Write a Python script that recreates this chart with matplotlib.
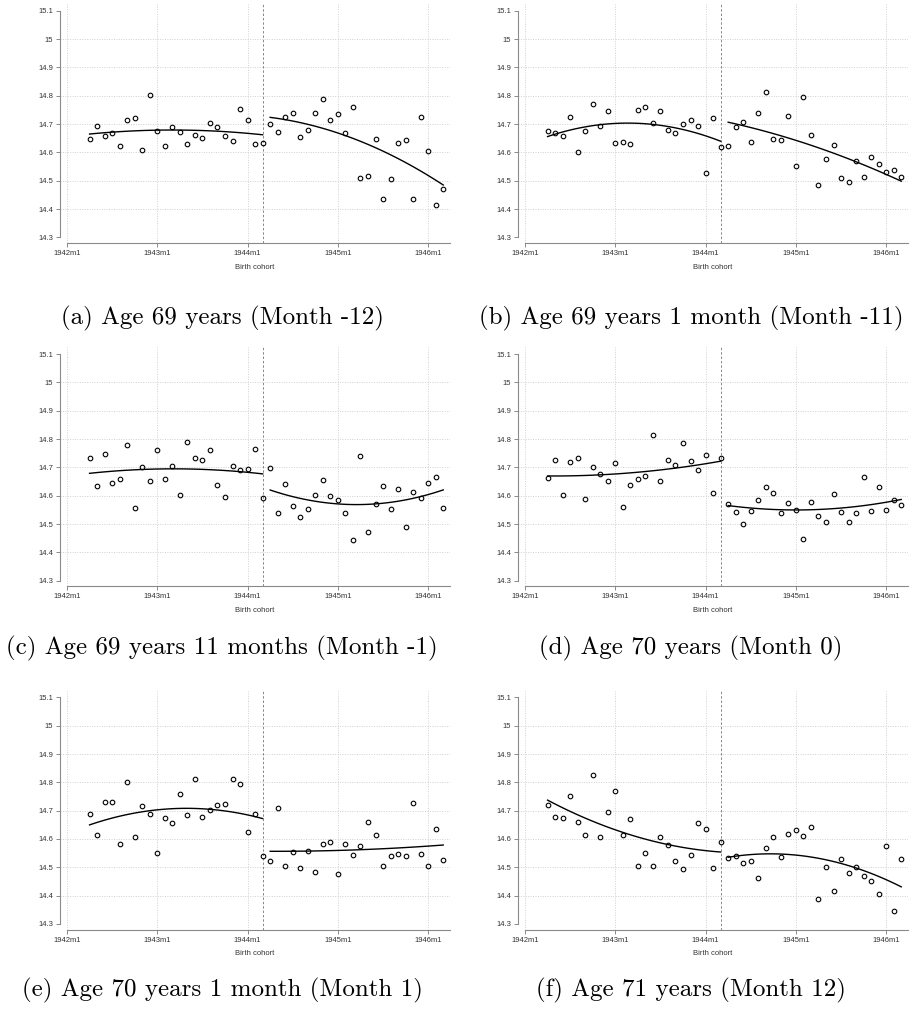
import numpy as np
import matplotlib.pyplot as plt

# Birth cohort in months since 1942m1 (1942m4 .. 1946m3)
months = np.arange(3, 51)
cutoff = 26  # 1944m3
tick_pos = [0, 12, 24, 36, 48]
tick_labels = ['1942m1', '1943m1', '1944m1', '1945m1', '1946m1']
y_ticks = [14.3, 14.4, 14.5, 14.6, 14.7, 14.8, 14.9, 15.0, 15.1]
y_tick_labels = ['14.3', '14.4', '14.5', '14.6', '14.7', '14.8', '14.9', '15', '15.1']

# mean outcome per birth cohort, one series per age
month_m12 = [14.647, 14.693, 14.659, 14.667, 14.624, 14.716, 14.720, 14.608, 14.802, 14.675,
             14.624, 14.689, 14.671, 14.631, 14.662, 14.652, 14.704, 14.689, 14.658, 14.641,
             14.753, 14.713, 14.628, 14.634, 14.701, 14.673, 14.724, 14.740, 14.655, 14.680,
             14.738, 14.789, 14.715, 14.735, 14.669, 14.760, 14.509, 14.515, 14.646, 14.436,
             14.507, 14.634, 14.642, 14.435, 14.724, 14.606, 14.414, 14.469]
month_m11 = [14.675, 14.669, 14.658, 14.726, 14.600, 14.674, 14.772, 14.693, 14.745, 14.632,
             14.638, 14.631, 14.749, 14.759, 14.705, 14.745, 14.679, 14.669, 14.702, 14.713,
             14.694, 14.526, 14.720, 14.618, 14.624, 14.691, 14.707, 14.638, 14.739, 14.812,
             14.646, 14.644, 14.728, 14.551, 14.795, 14.661, 14.486, 14.578, 14.625, 14.511,
             14.495, 14.571, 14.512, 14.584, 14.560, 14.531, 14.538, 14.512]
month_m1 = [14.732, 14.634, 14.746, 14.646, 14.659, 14.778, 14.555, 14.702, 14.652, 14.761,
            14.659, 14.706, 14.601, 14.791, 14.734, 14.727, 14.762, 14.639, 14.595, 14.705,
            14.692, 14.695, 14.764, 14.593, 14.696, 14.540, 14.642, 14.562, 14.526, 14.553,
            14.602, 14.655, 14.600, 14.584, 14.538, 14.445, 14.739, 14.473, 14.569, 14.633,
            14.554, 14.622, 14.491, 14.613, 14.591, 14.646, 14.666, 14.555]
month_0 = [14.661, 14.725, 14.604, 14.718, 14.732, 14.587, 14.702, 14.676, 14.653, 14.714,
           14.561, 14.639, 14.658, 14.668, 14.814, 14.653, 14.725, 14.707, 14.785, 14.724,
           14.689, 14.745, 14.609, 14.734, 14.572, 14.544, 14.499, 14.545, 14.584, 14.632,
           14.608, 14.538, 14.575, 14.548, 14.446, 14.576, 14.527, 14.508, 14.605, 14.542,
           14.507, 14.539, 14.665, 14.546, 14.629, 14.548, 14.586, 14.568]
month_1 = [14.687, 14.614, 14.732, 14.729, 14.581, 14.802, 14.606, 14.715, 14.687, 14.552,
           14.673, 14.658, 14.760, 14.684, 14.813, 14.678, 14.701, 14.719, 14.724, 14.811,
           14.795, 14.626, 14.688, 14.541, 14.524, 14.711, 14.505, 14.553, 14.496, 14.558,
           14.485, 14.584, 14.591, 14.476, 14.584, 14.544, 14.575, 14.660, 14.614, 14.504,
           14.541, 14.548, 14.539, 14.727, 14.547, 14.504, 14.636, 14.526]
month_12 = [14.719, 14.676, 14.673, 14.753, 14.660, 14.614, 14.825, 14.608, 14.696, 14.771,
            14.613, 14.672, 14.505, 14.552, 14.505, 14.606, 14.578, 14.521, 14.494, 14.542,
            14.655, 14.634, 14.499, 14.591, 14.534, 14.541, 14.515, 14.522, 14.462, 14.567,
            14.606, 14.536, 14.618, 14.631, 14.612, 14.642, 14.387, 14.501, 14.418, 14.529,
            14.479, 14.500, 14.471, 14.452, 14.407, 14.575, 14.344, 14.528]

series = [month_m12, month_m11, month_m1, month_0, month_1, month_12]
captions = ['(a) Age 69 years (Month -12)',
            '(b) Age 69 years 1 month (Month -11)',
            '(c) Age 69 years 11 months (Month -1)',
            '(d) Age 70 years (Month 0)',
            '(e) Age 70 years 1 month (Month 1)',
            '(f) Age 71 years (Month 12)']

W, H = 918, 1021
fig = plt.figure(figsize=(W / 100, H / 100), dpi=100)

col_left = [60, 518]
row_top = [4, 347.3, 690.6]
ax_w, ax_h = 390, 239
cap_x = [222, 691]
cap_y = [318, 648, 990]

axis_grey = '#8a8a8a'
grid_grey = '#d0d0d0'

for k, vals in enumerate(series):
    r, c = divmod(k, 2)
    x0, y0 = col_left[c], row_top[r]
    ax = fig.add_axes([x0 / W, 1 - (y0 + ax_h) / H, ax_w / W, ax_h / H])
    vals = np.array(vals)

    for yt in y_ticks[1:-1]:
        ax.axhline(yt, color=grid_grey, lw=0.7, ls=(0, (1, 1.5)), zorder=0)
    for xt in tick_pos:
        ax.axvline(xt, color=grid_grey, lw=0.7, ls=(0, (1, 1.5)), zorder=0)
    ax.axvline(cutoff, color='#888888', lw=0.7, ls=(0, (2.5, 2)), zorder=1)

    ax.plot(months, vals, 'o', mfc='none', mec='black', ms=3.3, mew=0.8, zorder=3)

    # quadratic fit on each side of the cutoff
    for side in (months <= cutoff, months > cutoff):
        xs, ys = months[side], vals[side]
        coef = np.polyfit(xs, ys, 2)
        xx = np.linspace(xs.min(), xs.max(), 100)
        ax.plot(xx, np.polyval(coef, xx), color='black', lw=1.0, zorder=2)

    ax.set_xlim(-0.93, 50.9)
    ax.set_ylim(14.28, 15.124)
    ax.set_xticks(tick_pos)
    ax.set_xticklabels(tick_labels)
    ax.set_yticks(y_ticks)
    ax.set_yticklabels(y_tick_labels)
    ax.tick_params(length=3, width=0.7, color=axis_grey, labelsize=5.5,
                   labelcolor='#333333', pad=2)
    for lab in ax.get_xticklabels() + ax.get_yticklabels():
        lab.set_family('Liberation Sans')
    ax.set_xlabel('Birth cohort', fontsize=5.5, color='#333333',
                  family='Liberation Sans', labelpad=5)
    for s in ('top', 'right'):
        ax.spines[s].set_visible(False)
    for s in ('left', 'bottom'):
        ax.spines[s].set_color(axis_grey)
        ax.spines[s].set_linewidth(0.8)
    ax.spines['left'].set_bounds(14.3, 15.1)
    ax.spines['bottom'].set_bounds(0, 50.9)
    ax.patch.set_visible(False)

    fig.text(cap_x[c] / W, 1 - cap_y[r] / H, captions[k], family='cmr10',
             fontsize=18, ha='center', va='center')

fig.savefig('out.png', dpi=100)
